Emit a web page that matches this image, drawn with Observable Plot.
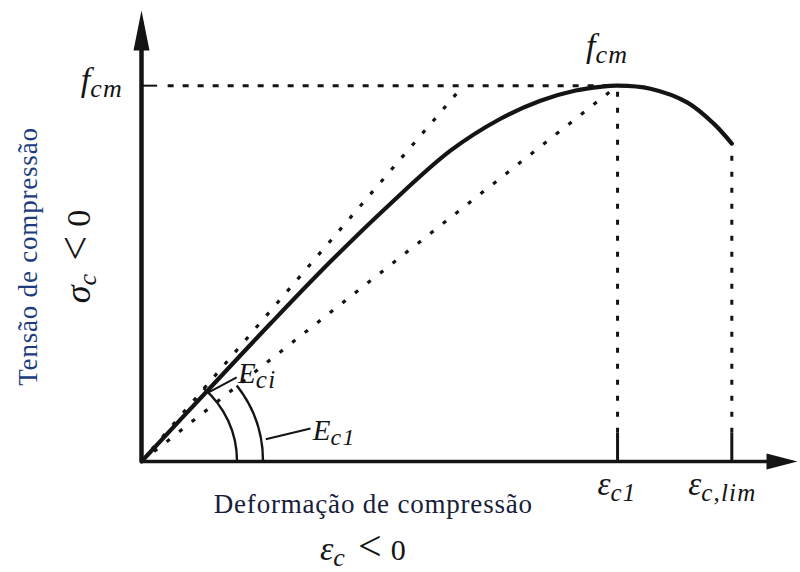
<!DOCTYPE html>
<html>
<head>
<meta charset="utf-8">
<script src="https://cdn.jsdelivr.net/npm/d3@7"></script>
<script src="https://cdn.jsdelivr.net/npm/@observablehq/plot@0.6"></script>
<style>
  html, body { margin: 0; padding: 0; background: #fff; }
  svg { display: block; }
</style>
</head>
<body>
<div id="chart"></div>
<script>
// Concrete under compression: normalised stress–strain diagram.
// Strain is expressed as ε/εc1, stress as σ/fcm.
const strain = [0, 0.139, 0.271, 0.397, 0.523, 0.649, 0.754, 0.838, 0.912, 0.964, 1.0, 1.069, 1.147, 1.202, 1.24];
const stress = [0, 0.189, 0.367, 0.532, 0.686, 0.827, 0.912, 0.960, 0.987, 0.997, 1.0, 0.992, 0.955, 0.899, 0.846];

// Reference values
const fcm = 1;           // peak stress
const epsC1 = 1;         // strain at peak stress
const epsLim = 1.24;     // ultimate strain (end of the curve)
const eciStrain = 0.676; // strain where the initial tangent reaches fcm
const tickTop = 0.075;   // height of the short marks on the strain axis
const xMax = 1.378, yMax = 1.2; // arrow tips of the axes

const curve = strain.map((s, i) => ({strain: s, stress: stress[i]}));

// Initial tangent modulus Eci and secant modulus Ec1
const moduli = [
  {kind: "Eci", x1: 0, y1: 0, x2: eciStrain, y2: fcm},
  {kind: "Ec1", x1: 0, y1: 0, x2: epsC1, y2: fcm}
];
const endStress = stress[stress.length - 1];
const drops = [
  {x: epsC1, top: fcm},
  {x: epsLim, top: endStress}
];

// Leader lines from the angle arcs to their labels
const leaders = [
  {x1: 0.141, y1: 0.184, x2: 0.200, y2: 0.224},
  {x1: 0.261, y1: 0.059, x2: 0.355, y2: 0.088}
];

// Angle arcs drawn around the origin
const arcs = [
  {kind: "Eci", radius: 96},
  {kind: "Ec1", radius: 122}
];

const MATH = "'Liberation Serif', 'Times New Roman', serif";
const TEXT = "'Liberation Serif', 'Times New Roman', serif";
const INK = "#141414";

// Labels: base symbol with subscript, optionally followed by a relation
const labels = [
  {x: 0, y: fcm, dx: -18, dy: 6, anchor: "end", base: "f", sub: "cm", size: 34, subSize: 26, shift: 6},
  {x: epsC1, y: fcm, dx: -10, dy: -28, anchor: "middle", base: "f", sub: "cm", size: 34, subSize: 26, shift: 6},
  {x: epsC1, y: 0, dx: 0, dy: 34, anchor: "middle", base: "ε", sub: "c1", size: 33, subSize: 25, shift: 6},
  {x: epsLim, y: 0, dx: -9, dy: 34, anchor: "middle", base: "ε", sub: "c,lim", size: 33, subSize: 25, shift: 6},
  {x: 0.204, y: 0.208, dx: 0, dy: 0, anchor: "start", base: "E", sub: "ci", size: 29, subSize: 25, shift: 5},
  {x: 0.361, y: 0.056, dx: 0, dy: 0, anchor: "start", base: "E", sub: "c1", size: 29, subSize: 24, shift: 5},
  {x: 0.466, y: 0, dx: 0, dy: 99, anchor: "middle", base: "ε", sub: "c", rel: "<", val: "0", size: 34, subSize: 26, relSize: 42, valSize: 30, shift: 6, gap1: 12, gap2: 9},
  {x: 0, y: 0.544, dx: -51, dy: 0, anchor: "middle", rotate: -90, base: "σ", sub: "c", rel: "<", val: "0", size: 36, subSize: 26, relSize: 44, valSize: 34, shift: 6, gap1: 12, gap2: 9}
];

const titles = [
  {x: 0.488, y: 0, dx: 0, dy: 52, text: "Deformação de compressão", color: "#17203a"},
  {x: 0, y: 0.544, dx: -104, dy: 0, rotate: -90, text: "Tensão de compressão", color: "#203c7c"}
];

// Filled arrowheads, tip at the symbol's anchor
const arrowUp = {draw(ctx) { ctx.moveTo(0, 0); ctx.lineTo(8, 40); ctx.lineTo(-8, 40); ctx.closePath(); }};
const arrowRight = {draw(ctx) { ctx.moveTo(0, 0); ctx.lineTo(-31, 8); ctx.lineTo(-31, -8); ctx.closePath(); }};

function drawArcs(index, {x, y}) {
  const ox = x(0), oy = y(0);
  const g = d3.create("svg:g").attr("fill", "none").attr("stroke", INK).attr("stroke-width", 2.4);
  for (const a of arcs) {
    const m = moduli.find(d => d.kind === a.kind);
    const ang = Math.atan2(oy - y(m.y2), x(m.x2) - ox);
    const r = a.radius;
    g.append("path").attr("d",
      `M${ox + r},${oy}A${r},${r} 0 0 0 ${ox + r * Math.cos(ang)},${oy - r * Math.sin(ang)}`);
  }
  return g.node();
}

function drawLabels(index, {x, y}) {
  const g = d3.create("svg:g").attr("fill", INK);
  for (const l of labels) {
    const px = x(l.x) + l.dx, py = y(l.y) + l.dy;
    const t = g.append("text")
      .attr("text-anchor", l.anchor)
      .attr("font-family", MATH)
      .attr("transform", `translate(${px},${py})` + (l.rotate ? ` rotate(${l.rotate})` : ""));
    t.append("tspan").attr("font-style", "italic").attr("font-size", l.size).text(l.base);
    t.append("tspan").attr("font-style", "italic").attr("font-size", l.subSize)
      .attr("letter-spacing", 1.2).attr("dy", l.shift).text(l.sub);
    if (l.rel) {
      t.append("tspan").attr("font-size", l.relSize).attr("dy", -l.shift).attr("dx", l.gap1).text(l.rel);
      t.append("tspan").attr("font-size", l.valSize).attr("dx", l.gap2).text(l.val);
    }
  }
  for (const tl of titles) {
    const px = x(tl.x) + tl.dx, py = y(tl.y) + tl.dy;
    g.append("text")
      .attr("text-anchor", "middle")
      .attr("font-family", TEXT)
      .attr("font-size", 27)
      .attr("letter-spacing", 0.8)
      .attr("fill", tl.color)
      .attr("transform", `translate(${px},${py})` + (tl.rotate ? ` rotate(${tl.rotate})` : ""))
      .text(tl.text);
  }
  return g.node();
}

const chart = Plot.plot({
  width: 800,
  height: 572,
  x: {domain: [0, xMax], range: [141, 797], axis: null},
  y: {domain: [0, yMax], range: [461, 10], axis: null},
  style: {background: "#fff", overflow: "visible"},
  marks: [
    // dotted construction lines
    Plot.ruleY([fcm], {x1: 0.056, x2: epsC1, stroke: INK, strokeWidth: 3, strokeDasharray: "6,9"}),
    Plot.link(moduli, {x1: "x1", y1: "y1", x2: "x2", y2: "y2", stroke: INK, strokeWidth: 3.2, strokeDasharray: "4,12"}),
    Plot.ruleX(drops, {x: "x", y1: tickTop, y2: "top", stroke: INK, strokeWidth: 3, strokeDasharray: "5,11"}),
    // short solid marks on both axes
    Plot.ruleX([epsC1, epsLim], {y1: 0, y2: tickTop, stroke: INK, strokeWidth: 3}),
    Plot.ruleY([fcm], {x1: 0, x2: 0.034, stroke: INK, strokeWidth: 2}),
    // axes with arrowheads
    Plot.ruleX([0], {y1: 0, y2: yMax - 0.05, stroke: INK, strokeWidth: 4.5}),
    Plot.ruleY([0], {x1: 0, x2: xMax - 0.04, stroke: INK, strokeWidth: 3.5}),
    Plot.dot([{x: 0, y: yMax}], {x: "x", y: "y", symbol: arrowUp, fill: INK, stroke: "none"}),
    Plot.dot([{x: xMax, y: 0}], {x: "x", y: "y", symbol: arrowRight, fill: INK, stroke: "none"}),
    // stress–strain curve
    Plot.line(curve, {x: "strain", y: "stress", curve: "catmull-rom", stroke: INK, strokeWidth: 4.2, strokeLinecap: "round", strokeLinejoin: "round"}),
    // angle arcs and leaders
    drawArcs,
    Plot.link(leaders, {x1: "x1", y1: "y1", x2: "x2", y2: "y2", stroke: INK, strokeWidth: 2}),
    drawLabels
  ]
});

document.getElementById("chart").appendChild(chart);
</script>
</body>
</html>
